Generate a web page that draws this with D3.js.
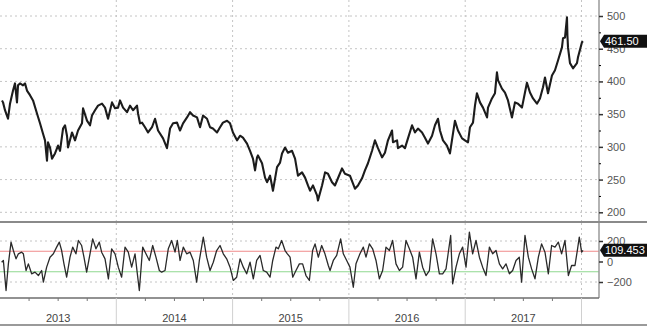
<!DOCTYPE html>
<html lang="en">
<head>
<meta charset="UTF-8">
<title>Price with oscillator</title>
<script src="https://d3js.org/d3.v7.min.js"></script>
<style>
  body { margin: 0; background: #fff; }
  text { font-family: "Liberation Sans", Arial, sans-serif; }
</style>
</head>
<body>
<script>
// Data: [decimal year, value]
const priceSeries = [
  [2013.017,371],[2013.026,368],[2013.043,356],[2013.069,343],[2013.086,366],[2013.112,386],[2013.129,397],
  [2013.146,368],[2013.155,394],[2013.172,397],[2013.198,394],[2013.215,397],[2013.232,386],[2013.258,379],
  [2013.284,371],[2013.318,351],[2013.344,336],[2013.370,320],[2013.387,310],[2013.404,279],[2013.413,307],
  [2013.430,299],[2013.447,282],[2013.473,290],[2013.499,302],[2013.516,294],[2013.542,328],[2013.559,333],
  [2013.576,317],[2013.585,299],[2013.619,322],[2013.645,310],[2013.671,325],[2013.705,336],[2013.714,359],
  [2013.748,340],[2013.774,333],[2013.791,348],[2013.817,356],[2013.843,363],[2013.877,366],[2013.903,360],
  [2013.929,343],[2013.963,368],[2013.989,359],[2014.015,360],[2014.032,371],[2014.058,360],[2014.092,353],
  [2014.118,363],[2014.144,356],[2014.178,363],[2014.187,351],[2014.204,336],[2014.221,337],[2014.247,330],
  [2014.273,322],[2014.307,330],[2014.333,343],[2014.359,325],[2014.402,313],[2014.436,298],[2014.462,328],
  [2014.488,336],[2014.522,337],[2014.548,325],[2014.574,336],[2014.608,345],[2014.634,353],[2014.660,348],
  [2014.694,345],[2014.720,330],[2014.746,348],[2014.780,343],[2014.806,330],[2014.831,328],[2014.866,322],
  [2014.892,330],[2014.917,337],[2014.952,340],[2014.978,336],[2015.003,322],[2015.038,310],[2015.064,317],
  [2015.089,314],[2015.124,305],[2015.150,294],[2015.175,282],[2015.193,264],[2015.210,284],[2015.218,287],
  [2015.253,275],[2015.279,253],[2015.296,246],[2015.322,256],[2015.347,233],[2015.382,269],[2015.408,276],
  [2015.425,290],[2015.451,299],[2015.476,291],[2015.511,294],[2015.537,282],[2015.562,256],[2015.597,261],
  [2015.623,253],[2015.648,241],[2015.666,233],[2015.691,241],[2015.726,226],[2015.734,218],[2015.769,241],
  [2015.795,261],[2015.820,259],[2015.855,246],[2015.880,241],[2015.906,252],[2015.941,267],[2015.966,259],
  [2016.009,256],[2016.052,236],[2016.078,241],[2016.113,252],[2016.138,264],[2016.164,275],[2016.199,294],
  [2016.224,310],[2016.250,298],[2016.285,284],[2016.310,291],[2016.336,310],[2016.371,325],[2016.379,307],
  [2016.414,310],[2016.422,298],[2016.457,302],[2016.482,298],[2016.508,313],[2016.543,333],[2016.568,322],
  [2016.594,328],[2016.629,322],[2016.654,314],[2016.680,305],[2016.715,317],[2016.740,333],[2016.766,343],
  [2016.783,325],[2016.809,310],[2016.843,302],[2016.869,290],[2016.886,310],[2016.912,340],[2016.938,325],
  [2016.973,313],[2016.998,310],[2017.024,307],[2017.041,330],[2017.067,337],[2017.084,363],[2017.101,382],
  [2017.127,368],[2017.153,360],[2017.188,345],[2017.196,360],[2017.230,374],[2017.256,382],[2017.273,414],
  [2017.282,402],[2017.316,389],[2017.342,383],[2017.368,371],[2017.402,345],[2017.428,368],[2017.454,366],
  [2017.488,360],[2017.514,383],[2017.531,398],[2017.557,383],[2017.583,374],[2017.617,366],[2017.643,374],
  [2017.669,391],[2017.686,406],[2017.712,382],[2017.746,409],[2017.772,417],[2017.798,432],[2017.832,452],
  [2017.841,466],[2017.858,467],[2017.875,498],[2017.879,470],[2017.884,452],[2017.901,428],[2017.927,420],
  [2017.961,428],[2017.970,437],[2018.004,460],[2018.013,461.5]
];

const oscSeries = [
  [2013.014,-7],[2013.029,10],[2013.052,-283],[2013.072,-23],[2013.095,189],[2013.115,107],[2013.138,26],
  [2013.158,75],[2013.186,91],[2013.201,75],[2013.224,-88],[2013.244,-23],[2013.272,-120],[2013.301,-104],
  [2013.330,-137],[2013.358,-88],[2013.373,-202],[2013.401,-55],[2013.430,42],[2013.459,75],[2013.487,140],
  [2013.510,189],[2013.530,107],[2013.550,-23],[2013.573,-153],[2013.602,42],[2013.625,140],[2013.653,75],
  [2013.674,205],[2013.702,156],[2013.722,42],[2013.745,-104],[2013.774,75],[2013.797,221],[2013.825,124],
  [2013.854,189],[2013.874,91],[2013.903,26],[2013.932,-169],[2013.960,124],[2013.989,75],[2014.017,-55],
  [2014.046,-153],[2014.075,140],[2014.103,91],[2014.132,-55],[2014.161,75],[2014.181,-120],[2014.198,-283],
  [2014.227,140],[2014.255,75],[2014.284,10],[2014.313,156],[2014.341,42],[2014.370,-88],[2014.390,-104],
  [2014.419,-88],[2014.447,124],[2014.476,205],[2014.505,91],[2014.525,205],[2014.548,10],[2014.576,140],
  [2014.605,75],[2014.634,91],[2014.662,10],[2014.691,-202],[2014.714,10],[2014.748,237],[2014.777,42],
  [2014.806,-88],[2014.834,-7],[2014.863,107],[2014.892,156],[2014.920,75],[2014.949,26],[2014.978,-55],
  [2015.006,-185],[2015.035,-153],[2015.064,26],[2015.092,-55],[2015.121,-120],[2015.150,-7],[2015.178,-169],
  [2015.207,10],[2015.236,59],[2015.264,-88],[2015.293,-104],[2015.322,-153],[2015.345,10],[2015.373,140],
  [2015.393,124],[2015.422,205],[2015.451,107],[2015.471,75],[2015.494,42],[2015.517,-153],[2015.545,-88],
  [2015.574,-23],[2015.602,-23],[2015.631,-137],[2015.660,-185],[2015.688,107],[2015.709,172],[2015.737,42],
  [2015.766,156],[2015.794,75],[2015.823,-39],[2015.838,-88],[2015.866,10],[2015.895,59],[2015.929,221],
  [2015.952,75],[2015.981,10],[2016.009,-55],[2016.038,-251],[2016.061,-23],[2016.095,75],[2016.124,140],
  [2016.147,42],[2016.176,172],[2016.204,124],[2016.233,10],[2016.262,-169],[2016.290,-88],[2016.319,140],
  [2016.348,107],[2016.376,205],[2016.405,-23],[2016.434,-88],[2016.462,-55],[2016.491,205],[2016.520,124],
  [2016.548,42],[2016.577,-169],[2016.606,91],[2016.634,-55],[2016.663,-137],[2016.692,-88],[2016.720,221],
  [2016.749,75],[2016.778,-120],[2016.806,-120],[2016.835,-72],[2016.875,254],[2016.892,-218],[2016.921,-55],
  [2016.950,75],[2016.978,140],[2017.007,-55],[2017.036,286],[2017.064,75],[2017.093,205],[2017.122,42],
  [2017.150,-55],[2017.179,-137],[2017.208,140],[2017.236,75],[2017.265,107],[2017.294,-23],[2017.322,-72],
  [2017.351,-23],[2017.380,-120],[2017.408,-88],[2017.437,10],[2017.465,42],[2017.485,-202],[2017.514,254],
  [2017.543,42],[2017.571,-72],[2017.600,-169],[2017.629,42],[2017.657,172],[2017.686,91],[2017.715,-120],
  [2017.743,156],[2017.772,140],[2017.801,189],[2017.829,75],[2017.858,205],[2017.887,-137],[2017.915,-39],
  [2017.944,-39],[2017.964,107],[2017.981,237],[2018.001,91],[2018.013,109.453]
];

const years = [2013, 2014, 2015, 2016, 2017];
const priceTicks = [200, 250, 300, 350, 400, 450, 500];
const priceMinorTicks = [225, 275, 325, 375, 425, 475];
const oscTicks = [-200, 0, 200];
const oscBands = [{ value: 100, color: "#f08a8a" }, { value: -100, color: "#8fd88f" }];
const lastPrice = "461.50";
const lastOsc = "109.453";

const W = 665, H = 331;
const plotRight = 599, fullRight = 647;
const mainTop = 0, mainBottom = 222;
const lowTop = 223, lowBottom = 298, axisBottom = 325;

const x = d3.scaleLinear().domain([2013, 2018]).range([0, 581.5]);
const y = d3.scaleLinear().domain([200, 500]).range([212.3, 16]);
const yo = d3.scaleLinear().domain([-200, 200]).range([282, 241]);

const svg = d3.select("body").append("svg")
  .attr("width", W).attr("height", H);

// Gridlines, main panel
svg.append("g").selectAll("line").data(priceTicks).join("line")
  .attr("x1", 0).attr("x2", plotRight)
  .attr("y1", d => y(d)).attr("y2", d => y(d))
  .attr("stroke", "#c4c4c4").attr("stroke-dasharray", "2,3");
const yearLines = years.slice(1).concat([2018]);
svg.append("g").selectAll("line").data(yearLines).join("line")
  .attr("x1", d => x(d)).attr("x2", d => x(d))
  .attr("y1", mainTop).attr("y2", mainBottom)
  .attr("stroke", "#c4c4c4").attr("stroke-dasharray", "2,3");

// Gridlines, lower panel
svg.append("g").selectAll("line").data([-200, 200]).join("line")
  .attr("x1", 0).attr("x2", plotRight)
  .attr("y1", d => yo(d)).attr("y2", d => yo(d))
  .attr("stroke", "#c4c4c4").attr("stroke-dasharray", "2,3");
svg.append("g").selectAll("line").data(yearLines).join("line")
  .attr("x1", d => x(d)).attr("x2", d => x(d))
  .attr("y1", lowTop).attr("y2", lowBottom)
  .attr("stroke", "#c4c4c4").attr("stroke-dasharray", "2,3");

// Band lines
svg.append("g").selectAll("line").data(oscBands).join("line")
  .attr("x1", 0).attr("x2", plotRight)
  .attr("y1", d => yo(d.value)).attr("y2", d => yo(d.value))
  .attr("stroke", d => d.color).attr("stroke-width", 1);

// Series
svg.append("path").datum(priceSeries)
  .attr("fill", "none").attr("stroke", "#1c1c1c").attr("stroke-width", 2.1)
  .attr("stroke-linejoin", "round")
  .attr("d", d3.line().x(d => x(d[0])).y(d => y(d[1])));

svg.append("path").datum(oscSeries)
  .attr("fill", "none").attr("stroke", "#2a2a2a").attr("stroke-width", 1.3)
  .attr("stroke-linejoin", "round")
  .attr("d", d3.line().x(d => x(d[0])).y(d => yo(d[1])));

// Frame lines
svg.append("line").attr("x1", plotRight).attr("x2", plotRight)
  .attr("y1", 0).attr("y2", lowBottom).attr("stroke", "#9a9a9a").attr("stroke-width", 1.5);
svg.append("line").attr("x1", 0).attr("x2", fullRight)
  .attr("y1", mainBottom).attr("y2", mainBottom).attr("stroke", "#8a8a8a").attr("stroke-width", 2.2);
svg.append("line").attr("x1", 0).attr("x2", plotRight)
  .attr("y1", lowBottom).attr("y2", lowBottom).attr("stroke", "#6e6e6e").attr("stroke-width", 1.5);
svg.append("line").attr("x1", 0).attr("x2", fullRight)
  .attr("y1", axisBottom).attr("y2", axisBottom).attr("stroke", "#9a9a9a").attr("stroke-width", 2);

// Year separators and quarter ticks below the lower panel
svg.append("g").selectAll("line").data(yearLines).join("line")
  .attr("x1", d => x(d)).attr("x2", d => x(d))
  .attr("y1", lowBottom).attr("y2", axisBottom - 1)
  .attr("stroke", "#d0d0d0");
const quarters = [];
years.forEach(yr => [0.25, 0.5, 0.75].forEach(q => quarters.push(yr + q)));
svg.append("g").selectAll("line").data(quarters).join("line")
  .attr("x1", d => x(d)).attr("x2", d => x(d))
  .attr("y1", lowBottom).attr("y2", lowBottom + 3)
  .attr("stroke", "#777");

svg.append("g").selectAll("text").data(years).join("text")
  .attr("x", d => x(d + 0.5)).attr("y", 322)
  .attr("text-anchor", "middle").attr("font-size", 11).attr("fill", "#444")
  .text(d => d);

// Right axes
const axisMain = svg.append("g").attr("transform", `translate(${plotRight},0)`)
  .call(d3.axisRight(y).tickValues(priceTicks).tickSize(4).tickPadding(4).tickFormat(d3.format("d")));
svg.append("g").attr("transform", `translate(${plotRight},0)`)
  .call(d3.axisRight(y).tickValues(priceMinorTicks).tickSize(2).tickFormat(""))
  .call(g => g.select(".domain").remove());
const axisLow = svg.append("g").attr("transform", `translate(${plotRight},0)`)
  .call(d3.axisRight(yo).tickValues(oscTicks).tickSize(4).tickPadding(4).tickFormat(d3.format("d")));
[axisMain, axisLow].forEach(g => {
  g.select(".domain").remove();
  g.selectAll(".tick line").attr("stroke", "#333").attr("stroke-width", 1.5);
  g.selectAll(".tick text").attr("fill", "#555").attr("font-size", 11)
    .attr("font-family", "'Liberation Sans', Arial, sans-serif");
});

// Last value tags
function tag(yPos, label) {
  const g = svg.append("g");
  g.append("path")
    .attr("d", `M${plotRight + 1},${yPos} L${plotRight + 5},${yPos - 6.5} H${fullRight} V${yPos + 6.5} H${plotRight + 5} Z`)
    .attr("fill", "#111");
  g.append("text").attr("x", plotRight + 6).attr("y", yPos + 4)
    .attr("font-size", 11).attr("fill", "#fff").text(label);
}
tag(y(+lastPrice), lastPrice);
tag(yo(+lastOsc), lastOsc);
</script>
</body>
</html>
